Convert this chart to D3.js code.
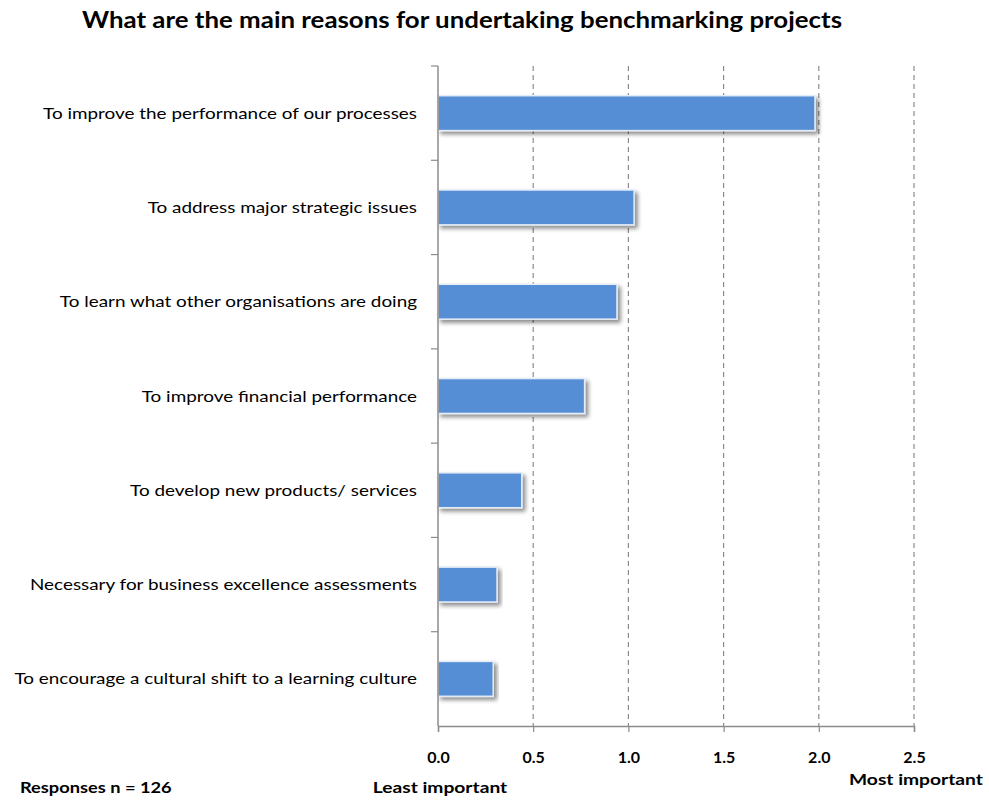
<!DOCTYPE html>
<html>
<head>
<meta charset="utf-8">
<script src="https://cdn.jsdelivr.net/npm/d3@7"></script>
<style>
  body { margin: 0; background: #fff; }
  svg { display: block; }
</style>
</head>
<body>
<script>
// Survey: main reasons for undertaking benchmarking projects (mean importance score)
const categories = [
  "To improve the performance of our processes",
  "To address major strategic issues",
  "To learn what other organisations are doing",
  "To improve financial performance",
  "To develop new products/ services",
  "Necessary for business excellence assessments",
  "To encourage a cultural shift to a learning culture"
];
const scores = [1.98, 1.03, 0.94, 0.77, 0.44, 0.31, 0.29];
const tickValues = [0, 0.5, 1.0, 1.5, 2.0, 2.5];
const titleText = "What are the main reasons for undertaking benchmarking projects";
const lowLabel = "Least important";
const highLabel = "Most important";
const noteText = "Responses n = 126";

const W = 989, H = 802;
const margin = { top: 66, left: 438, right: 75, bottom: 76 };
const plotW = 914 - margin.left;
const plotH = 726 - margin.top;
const font = "Lato, 'Open Sans', sans-serif";

// Widen text horizontally by factor k (keeps glyph height, spreads the run)
function widen(sel, k) {
  sel.each(function () {
    const w = this.getComputedTextLength();
    d3.select(this).attr("textLength", w * k).attr("lengthAdjust", "spacingAndGlyphs");
  });
}

const svg = d3.select("body").append("svg")
  .attr("width", W).attr("height", H);

const defs = svg.append("defs");
const f = defs.append("filter").attr("id", "shadow")
  .attr("x", "-5%").attr("y", "-20%").attr("width", "115%").attr("height", "160%");
f.append("feGaussianBlur").attr("in", "SourceAlpha").attr("stdDeviation", 2).attr("result", "b");
f.append("feOffset").attr("in", "b").attr("dx", 3).attr("dy", 3).attr("result", "o");
f.append("feComponentTransfer").attr("in", "o").attr("result", "s")
  .append("feFuncA").attr("type", "linear").attr("slope", 0.45);
const m = f.append("feMerge");
m.append("feMergeNode").attr("in", "s");
m.append("feMergeNode").attr("in", "SourceGraphic");

const x = d3.scaleLinear().domain([0, 2.5]).range([0, plotW]);
const y = d3.scaleBand().domain(categories).range([0, plotH]).paddingInner(0.63).paddingOuter(0.315);
const yEdge = d3.scaleLinear().domain([0, categories.length]).range([0, plotH]);

const g = svg.append("g").attr("transform", `translate(${margin.left},${margin.top})`);

// Title
svg.append("text")
  .attr("x", 462).attr("y", 28)
  .attr("text-anchor", "middle")
  .style("font-family", font).style("font-weight", "bold").style("font-size", "22px")
  .attr("fill", "#000")
  .text(titleText)
  .call(widen, 1.175);

// Dashed vertical gridlines
g.selectAll("line.grid")
  .data(tickValues.filter(d => d > 0))
  .join("line")
  .attr("class", "grid")
  .attr("x1", d => x(d)).attr("x2", d => x(d))
  .attr("y1", 0).attr("y2", plotH)
  .attr("stroke", "#8c8c8c").attr("stroke-width", 1.2)
  .attr("stroke-dasharray", "5,4");

// Bars
g.selectAll("rect.bar")
  .data(categories)
  .join("rect")
  .attr("class", "bar")
  .attr("x", 0)
  .attr("y", d => y(d))
  .attr("width", (d, i) => x(scores[i]))
  .attr("height", y.bandwidth())
  .attr("fill", "#558ed5")
  .attr("stroke", "#e4ecf7").attr("stroke-width", 1.5)
  .attr("filter", "url(#shadow)");

// Bottom axis
const xAxis = d3.axisBottom(x).tickValues(tickValues).tickFormat(d3.format(".1f")).tickSize(6).tickPadding(20);
const xa = g.append("g").attr("transform", `translate(0,${plotH})`).call(xAxis);
xa.select(".domain").attr("stroke", "#8c8c8c").attr("stroke-width", 1.5);
xa.selectAll(".tick line").attr("stroke", "#8c8c8c").attr("stroke-width", 1.2);
xa.selectAll(".tick text")
  .style("font-family", font).style("font-size", "16px").style("font-weight", "bold")
  .attr("fill", "#000");

// Left axis with ticks between categories
g.append("line")
  .attr("x1", 0).attr("x2", 0).attr("y1", 0).attr("y2", plotH)
  .attr("stroke", "#8c8c8c").attr("stroke-width", 1.5);
g.selectAll("line.ytick")
  .data(d3.range(categories.length))
  .join("line")
  .attr("class", "ytick")
  .attr("x1", -7).attr("x2", 0)
  .attr("y1", d => yEdge(d)).attr("y2", d => yEdge(d))
  .attr("stroke", "#8c8c8c").attr("stroke-width", 1.2);

// Category labels
g.selectAll("text.cat")
  .data(categories)
  .join("text")
  .attr("class", "cat")
  .attr("x", -21)
  .attr("y", d => y(d) + y.bandwidth() / 2)
  .attr("dy", "0.35em")
  .attr("text-anchor", "end")
  .style("font-family", font).style("font-size", "16px")
  .attr("fill", "#000")
  .text(d => d)
  .call(widen, 1.18);

// Scale end labels
svg.append("text")
  .attr("x", margin.left + x(0) + 2).attr("y", 793)
  .attr("text-anchor", "middle")
  .style("font-family", font).style("font-size", "16px").style("font-weight", "bold")
  .text(lowLabel)
  .call(widen, 1.2);
svg.append("text")
  .attr("x", margin.left + x(2.5) + 2).attr("y", 785)
  .attr("text-anchor", "middle")
  .style("font-family", font).style("font-size", "16px").style("font-weight", "bold")
  .text(highLabel)
  .call(widen, 1.2);

// Sample size note
svg.append("text")
  .attr("x", 20).attr("y", 793)
  .style("font-family", font).style("font-size", "16px").style("font-weight", "bold")
  .text(noteText)
  .call(widen, 1.14);
</script>
</body>
</html>
